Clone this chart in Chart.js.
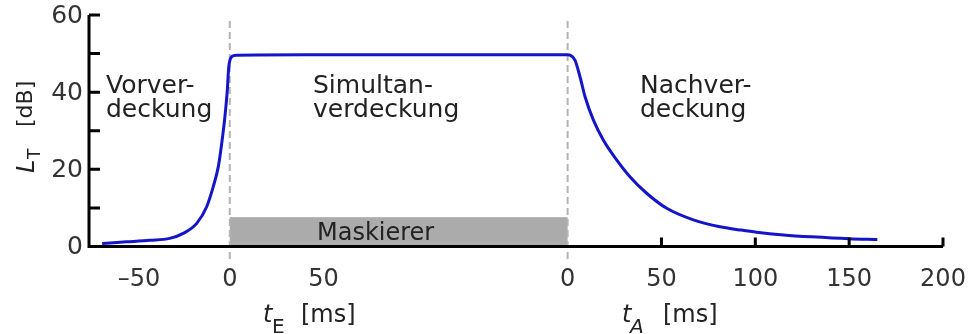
<!DOCTYPE html>
<html>
<head>
<meta charset="utf-8">
<script src="https://cdn.jsdelivr.net/npm/chart.js@4.4.0/dist/chart.umd.min.js"></script>
<style>
  html, body { margin: 0; padding: 0; background: #fff; }
  #wrap { width: 969px; height: 334px; }
</style>
</head>
<body>
<div id="wrap"><canvas id="chart"></canvas></div>
<script>
// Zeitachse: t_E bis Maskierer-Ende, danach t_A (um maskerEnd verschoben)
const maskerEnd = 180
const maskerLevel = 7.6

// Vorverdeckung (t_E in ms, L_T in dB)
const vorTime  = [-68, -55, -42.5, -32, -24.8, -17.6, -12.3, -8.8, -6.1, -4.3, -2.6, -1.3, -0.6, 1.0, 3.6]
const vorLevel = [0.8, 1.2, 1.6, 2.1, 3.4, 6.0, 10.3, 15.5, 20.7, 26.7, 33.6, 40.6, 46.2, 49.2, 49.6]

// Simultanverdeckung
const simTime  = [40, 90, 140]
const simLevel = [49.7, 49.7, 49.7]

// Nachverdeckung (t_A in ms)
const nachTime  = [0, 1.3, 3.9, 6.6, 9.3, 13.7, 19, 26.2, 33.2, 42.1, 52.8, 67, 81.2, 91.8, 100.7, 115, 130, 150, 165]
const nachLevel = [49.7, 49.6, 48.3, 44, 38.8, 32.8, 27.6, 22.4, 18.1, 13.8, 9.9, 6.9, 5.1, 4.3, 3.7, 3.0, 2.5, 2.0, 1.8]

// Achsen
const xTickValues = [-50, 0, 50, 180, 230, 280, 330, 380]
const xTickLabels = ['–50', '0', '50', '0', '50', '100', '150', '200']
const xTickMarks  = [230, 280, 330, 380]
const yTickLabels = [0, 20, 40, 60]
const yTickMarks  = [10, 20, 30, 40, 50, 60]

const points = []
vorTime.forEach((t, i) => points.push({ x: t, y: vorLevel[i] }))
simTime.forEach((t, i) => points.push({ x: t, y: simLevel[i] }))
nachTime.forEach((t, i) => points.push({ x: t + maskerEnd, y: nachLevel[i] }))

const FONT = '"DejaVu Sans", sans-serif'

const decor = {
  id: 'decor',
  beforeDatasetsDraw(chart) {
    const { ctx, scales: { x, y } } = chart
    ctx.save()
    // Maskierer-Balken
    ctx.fillStyle = '#ababab'
    const x0 = x.getPixelForValue(0), x1 = x.getPixelForValue(maskerEnd)
    const yTop = y.getPixelForValue(maskerLevel), yBot = y.getPixelForValue(0)
    ctx.fillRect(x0, yTop, x1 - x0, yBot - yTop)
    // gestrichelte Linien
    ctx.strokeStyle = '#b4b4b4'
    ctx.lineWidth = 2
    ctx.setLineDash([7, 4])
    ;[0, maskerEnd].forEach(v => {
      const px = x.getPixelForValue(v)
      ctx.beginPath()
      ctx.moveTo(px, 21)
      ctx.lineTo(px, 262)
      ctx.stroke()
    })
    ctx.setLineDash([])
    ctx.fillStyle = '#222'
    ctx.font = '24px ' + FONT
    ctx.textBaseline = 'alphabetic'
    ctx.textAlign = 'left'
    ctx.fillText('Maskierer', 317, 240)
    ctx.restore()
  },
  afterDatasetsDraw(chart) {
    const { ctx, scales: { x, y } } = chart
    const left = x.getPixelForValue(x.min), right = x.getPixelForValue(x.max)
    const top = y.getPixelForValue(y.max), bottom = y.getPixelForValue(0)
    ctx.save()
    // Achsenlinien
    ctx.strokeStyle = '#000'
    ctx.lineWidth = 3
    ctx.beginPath()
    ctx.moveTo(left, top)
    ctx.lineTo(left, bottom)
    ctx.lineTo(right, bottom)
    ctx.stroke()
    ctx.beginPath()
    yTickMarks.forEach(v => {
      const py = y.getPixelForValue(v)
      ctx.moveTo(left, py)
      ctx.lineTo(left + 11, py)
    })
    xTickMarks.forEach(v => {
      const px = x.getPixelForValue(v)
      ctx.moveTo(px, bottom)
      ctx.lineTo(px, bottom - 9)
    })
    ctx.stroke()

    // Tick-Beschriftung
    ctx.fillStyle = '#333'
    ctx.font = '25px ' + FONT
    ctx.textAlign = 'right'
    ctx.textBaseline = 'middle'
    yTickLabels.forEach(v => ctx.fillText(String(v), left - 6, y.getPixelForValue(v) + 1))
    ctx.font = '24px ' + FONT
    ctx.textAlign = 'center'
    ctx.textBaseline = 'top'
    xTickValues.forEach((v, i) => ctx.fillText(xTickLabels[i], x.getPixelForValue(v) + (i === 0 ? 3 : 0), 268))

    // Achsentitel
    ctx.fillStyle = '#222'
    ctx.textAlign = 'left'
    ctx.textBaseline = 'alphabetic'
    ctx.font = 'italic 24px ' + FONT
    ctx.fillText('t', 263, 322)
    ctx.font = '20px ' + FONT
    ctx.fillText('E', 272, 333)
    ctx.font = '24px ' + FONT
    ctx.fillText('[ms]', 301, 322)
    ctx.font = 'italic 24px ' + FONT
    ctx.fillText('t', 622, 322)
    ctx.font = 'italic 20px ' + FONT
    ctx.fillText('A', 630, 333)
    ctx.font = '24px ' + FONT
    ctx.fillText('[ms]', 663, 322)

    ctx.save()
    ctx.translate(34, 173)
    ctx.rotate(-Math.PI / 2)
    ctx.font = 'italic 24px ' + FONT
    ctx.fillText('L', 0, 0)
    ctx.font = '17px ' + FONT
    ctx.fillText('T', 14, 6)
    ctx.font = '22px ' + FONT
    ctx.fillText('[dB]', 46, -2)
    ctx.restore()

    // Bereichsbeschriftungen
    ctx.font = '25px ' + FONT
    ctx.fillText('Vorver-', 106, 93)
    ctx.fillText('deckung', 106, 117)
    ctx.fillText('Simultan-', 313, 93)
    ctx.fillText('verdeckung', 313, 117)
    ctx.fillText('Nachver-', 640, 93)
    ctx.fillText('deckung', 640, 117)
    ctx.restore()
  }
}

new Chart(document.getElementById('chart'), {
  type: 'scatter',
  data: {
    datasets: [{
      data: points,
      showLine: true,
      borderColor: '#1414c8',
      borderWidth: 3,
      pointRadius: 0,
      cubicInterpolationMode: 'monotone',
      fill: false
    }]
  },
  options: {
    responsive: true,
    maintainAspectRatio: false,
    animation: false,
    layout: { padding: { left: 89, right: 26, top: 15, bottom: 87.5 } },
    plugins: { legend: { display: false }, tooltip: { enabled: false } },
    scales: {
      x: { type: 'linear', min: -75, max: 380, display: false },
      y: { type: 'linear', min: 0, max: 60, display: false }
    }
  },
  plugins: [decor]
})
</script>
</body>
</html>
